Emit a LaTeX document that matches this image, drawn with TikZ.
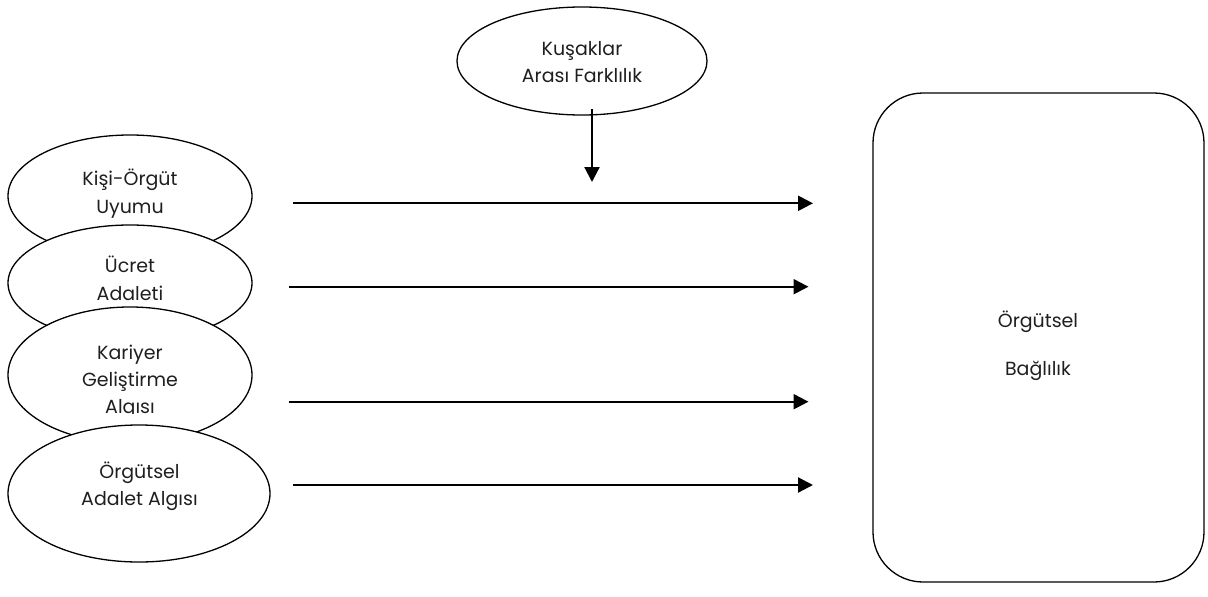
\documentclass[tikz,border=0pt]{standalone}
\usepackage{fontspec}
\setmainfont{Poppins}
\usetikzlibrary{shapes.geometric,arrows.meta}
\begin{document}
\begin{tikzpicture}[x=1pt,y=-1pt,
  oval/.style={draw=black,fill=white,ellipse,line width=1.3pt,inner sep=0pt},
  lbl/.style={anchor=base,inner sep=0pt,font=\fontsize{19}{22}\selectfont,text=black!88},
  arr/.style={line width=2.2pt,-{Triangle[length=15pt,width=15pt]}}]
\useasboundingbox (0,0) rectangle (1208,597);
% ellipse 1
\node[oval,minimum width=244pt,minimum height=122pt] (e1) at (130,196) {};
\node[lbl] (e1a) at (130,185) {Kişi-Örgüt};
\node[lbl] (e1b) at (130,213) {Uyumu};
% ellipse 2
\node[oval,minimum width=244pt,minimum height=116pt] (e2) at (130,283) {};
\begin{scope}
\clip (0,240) rectangle (260,301.5);
\node[lbl] (e2a) at (130,272) {Ücret};
\node[lbl] (e2b) at (130,300) {Adaleti};
\end{scope}
% ellipse 3
\node[oval,minimum width=244pt,minimum height=136pt] (e3) at (130,375) {};
\begin{scope}
\clip (0,320) rectangle (260,413);
\node[lbl] (e3a) at (130,359) {Kariyer};
\node[lbl] (e3b) at (130,386) {Geliştirme};
\node[lbl] (e3c) at (130,413) {Algısı};
\end{scope}
% ellipse 4
\node[oval,minimum width=262pt,minimum height=137pt] (e4) at (139,493.5) {};
\node[lbl] (e4a) at (139.5,478) {Örgütsel};
\node[lbl] (e4b) at (139.5,505) {Adalet Algısı};
% top ellipse
\node[oval,minimum width=250pt,minimum height=108pt] (top) at (582,61) {};
\node[lbl] (topa) at (582,55) {Kuşaklar};
\node[lbl] (topb) at (582,82) {Arası Farklılık};
% outcome box
\node[draw=black,line width=1.3pt,rounded corners=50pt,minimum width=331pt,minimum height=489pt,inner sep=0pt] (out) at (1038.5,337.5) {};
\node[lbl] (outa) at (1038,327) {Örgütsel};
\node[lbl] (outb) at (1038,375) {Bağlılık};
% arrow endpoints
\coordinate (s1) at (293,203.3); \coordinate (t1) at (813,203.3);
\coordinate (s2) at (288.5,286.7); \coordinate (t2) at (808.5,286.7);
\coordinate (s3) at (288.5,401.7); \coordinate (t3) at (808.5,401.7);
\coordinate (s4) at (293,485); \coordinate (t4) at (813,485);
\coordinate (sm) at (592,109); \coordinate (tm) at (592,182);
\draw[arr] (s1) -- (t1);
\draw[arr] (s2) -- (t2);
\draw[arr] (s3) -- (t3);
\draw[arr] (s4) -- (t4);
\draw[arr] (sm) -- (tm);
\end{tikzpicture}
\end{document}
